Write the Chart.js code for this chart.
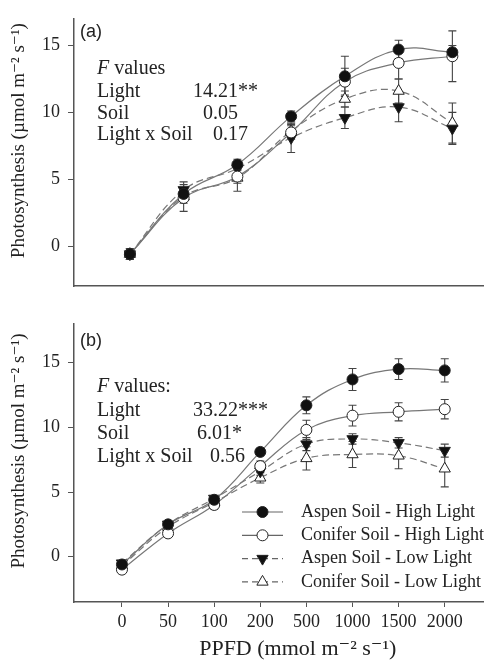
<!DOCTYPE html>
<html>
<head>
<meta charset="utf-8">
<script src="https://cdn.jsdelivr.net/npm/chart.js@4.4.0/dist/chart.umd.min.js"></script>
<style>
    body { margin: 0; background: #fff; }
    canvas { display: block; }
</style>
</head>
<body>
<canvas id="chartA" width="492" height="305"></canvas>
<canvas id="chartB" width="492" height="358"></canvas>
<script>
// 系列名と目盛り
const seriesNames = ['Aspen Soil - High Light', 'Conifer Soil - High Light', 'Aspen Soil - Low Light', 'Conifer Soil - Low Light'];
const ppfdLabels = ['0', '50', '100', '200', '500', '1000', '1500', '2000'];
const ppfdLabelsA = ['0', '50', '100', '200', '500', '1000', '1500'];
const yTicks = [0, 5, 10, 15];

// (a) の値と誤差
const aspenHighA = [-0.6, 3.9, 6.1, 9.7, 12.7, 14.7, 14.5];
const coniferHighA = [-0.6, 3.6, 5.2, 8.5, 12.3, 13.7, 14.2];
const aspenLowA = [-0.6, 4.2, 5.8, 8.1, 9.6, 10.4, 8.8];
const coniferLowA = [-0.6, 3.7, 5.1, 8.6, 11.0, 11.6, 9.2];
const aspenHighErrA = [0.4, 0.4, 0.4, 0.4, 1.5, 0.7, 0.5];
const coniferHighErrA = [0.4, 1.0, 0.5, 0.5, 1.0, 1.2, 1.9];
const aspenLowErrA = [0.4, 0.6, 0.5, 1.1, 0.8, 1.1, 1.2];
const coniferLowErrA = [0.4, 0.5, 1.0, 0.5, 0.6, 0.9, 1.5];

// (b) の値と誤差
const aspenHighB = [-0.6, 2.5, 4.4, 8.1, 11.7, 13.7, 14.5, 14.4];
const coniferHighB = [-1.0, 1.8, 4.0, 7.0, 9.8, 10.9, 11.2, 11.4];
const aspenLowB = [-0.5, 2.5, 4.5, 6.6, 8.7, 9.1, 8.8, 8.2];
const coniferLowB = [-0.7, 2.3, 4.2, 6.1, 7.6, 7.9, 7.8, 6.8];
const aspenHighErrB = [0.2, 0.2, 0.2, 0.3, 0.65, 0.85, 0.8, 0.9];
const coniferHighErrB = [0.2, 0.2, 0.3, 0.4, 0.75, 0.8, 0.7, 0.75];
const aspenLowErrB = [0.2, 0.2, 0.2, 0.3, 0.5, 0.4, 0.4, 0.5];
const coniferLowErrB = [0.2, 0.2, 0.2, 0.4, 0.9, 1.0, 1.0, 1.4];

// F値の注記
const fHeaderA = 'values';
const fRowsA = [['Light', '14.21**'], ['Soil', '0.05'], ['Light x Soil', '0.17']];
const fHeaderB = 'values:';
const fRowsB = [['Light', '33.22***'], ['Soil', '6.01*'], ['Light x Soil', '0.56']];

const SERIF = "'Liberation Serif', 'DejaVu Serif', serif";
const SANS = "'Liberation Sans', Arial, sans-serif";
const AXIS_COLOR = '#555';
const TEXT_COLOR = '#222';

Chart.defaults.font.family = SERIF;
Chart.defaults.color = TEXT_COLOR;

// 系列ごとの見た目
const seriesStyles = [
    { pointStyle: 'circle', rotation: 0, radius: 5.5, fill: '#111', dash: [] },
    { pointStyle: 'circle', rotation: 0, radius: 5.5, fill: '#fff', dash: [] },
    { pointStyle: 'triangle', rotation: 180, radius: 6.5, fill: '#111', dash: [7, 4] },
    { pointStyle: 'triangle', rotation: 0, radius: 6.5, fill: '#fff', dash: [7, 4] }
];

function makeDatasets(valueSets, errorSets) {
    return valueSets.map((values, s) => {
        const st = seriesStyles[s];
        return {
            label: seriesNames[s],
            data: values.map((v, i) => ({ x: i, y: v })),
            errors: errorSets[s],
            borderColor: '#777',
            borderWidth: 1.2,
            borderDash: st.dash,
            tension: 0.4,
            pointStyle: st.pointStyle,
            pointRotation: st.rotation,
            pointRadius: st.radius,
            pointBackgroundColor: st.fill,
            pointBorderColor: '#222',
            pointBorderWidth: 1,
            clip: false
        };
    });
}

// 誤差棒を描くプラグイン
const errorBarPlugin = {
    id: 'errorBars',
    beforeDatasetsDraw(chart) {
        const { ctx, scales: { x, y } } = chart;
        ctx.save();
        ctx.strokeStyle = '#444';
        ctx.lineWidth = 1.1;
        chart.data.datasets.forEach(ds => {
            ds.data.forEach((p, i) => {
                const e = ds.errors[i];
                const px = x.getPixelForValue(p.x);
                const top = y.getPixelForValue(p.y + e);
                const bot = y.getPixelForValue(p.y - e);
                ctx.beginPath();
                ctx.moveTo(px, top); ctx.lineTo(px, bot);
                ctx.moveTo(px - 4, top); ctx.lineTo(px + 4, top);
                ctx.moveTo(px - 4, bot); ctx.lineTo(px + 4, bot);
                ctx.stroke();
            });
        });
        ctx.restore();
    }
};

// パネル記号とF値の注記
const annotationPlugin = {
    id: 'fValues',
    afterDraw(chart, args, opts) {
        const { ctx, chartArea: { left, top } } = chart;
        ctx.save();
        ctx.fillStyle = TEXT_COLOR;
        ctx.textBaseline = 'middle';
        ctx.textAlign = 'left';
        ctx.font = '18px ' + SANS;
        ctx.fillText(opts.tag, left + 6, top + opts.tagY);

        const hx = left + 23;
        let y = top + opts.headerY;
        ctx.font = 'italic 20px ' + SERIF;
        ctx.fillText('F', hx, y);
        const fw = ctx.measureText('F ').width;
        ctx.font = '20px ' + SERIF;
        ctx.fillText(opts.header, hx + fw, y);
        opts.rows.forEach((row, i) => {
            const ry = top + opts.rowY[i];
            ctx.fillText(row[0], hx, ry);
            ctx.fillText(row[1], left + opts.valueX[i], ry);
        });
        ctx.restore();
    }
};

// 凡例（パネルbのみ）
const legendPlugin = {
    id: 'customLegend',
    afterDraw(chart, args, opts) {
        if (!opts.show) return;
        const { ctx } = chart;
        ctx.save();
        chart.data.datasets.forEach((ds, i) => {
            const st = seriesStyles[i];
            const y = opts.y0 + i * opts.step;
            ctx.strokeStyle = '#666';
            ctx.lineWidth = 1.2;
            ctx.setLineDash(st.dash.length ? [6, 4] : []);
            ctx.beginPath();
            ctx.moveTo(opts.x0, y);
            ctx.lineTo(opts.x1, y);
            ctx.stroke();
            ctx.setLineDash([]);
            const cx = (opts.x0 + opts.x1) / 2;
            ctx.fillStyle = st.fill;
            ctx.strokeStyle = '#222';
            ctx.lineWidth = 1;
            ctx.beginPath();
            if (st.pointStyle === 'circle') {
                ctx.arc(cx, y, st.radius, 0, Math.PI * 2);
            } else {
                const r = st.radius;
                const rot = st.rotation * Math.PI / 180;
                for (let k = 0; k < 3; k++) {
                    const a = rot + k * 2 * Math.PI / 3;
                    const px = cx + Math.sin(a) * r;
                    const py = y - Math.cos(a) * r;
                    if (k === 0) ctx.moveTo(px, py); else ctx.lineTo(px, py);
                }
                ctx.closePath();
            }
            ctx.fill();
            ctx.stroke();
            ctx.fillStyle = TEXT_COLOR;
            ctx.font = '18px ' + SERIF;
            ctx.textBaseline = 'middle';
            ctx.fillText(ds.label, opts.textX, y);
        });
        ctx.restore();
    }
};

function makeOptions(cfg) {
    return {
        responsive: false,
        animation: false,
        events: [],
        layout: { padding: { top: cfg.padTop, right: 9, left: 0, bottom: 0 } },
        plugins: {
            legend: { display: false },
            tooltip: { enabled: false },
            fValues: cfg.annot,
            customLegend: cfg.legend
        },
        scales: {
            x: {
                type: 'linear',
                min: cfg.xMin,
                max: cfg.xMax,
                afterFit: (scale) => { scale.height = cfg.xHeight; },
                afterBuildTicks: (scale) => {
                    scale.ticks = cfg.xLabels.map((_, i) => ({ value: i }));
                },
                border: { display: true, color: AXIS_COLOR, width: 1.5 },
                grid: { drawOnChartArea: false, drawTicks: cfg.showX, tickLength: 5, tickColor: AXIS_COLOR },
                ticks: {
                    display: cfg.showX,
                    autoSkip: false,
                    maxRotation: 0,
                    padding: 4,
                    font: { size: 18 },
                    callback: (v) => cfg.xLabels[v]
                },
                title: {
                    display: cfg.showX,
                    // 先頭の空白で中心を少し右へずらす
                    text: '       PPFD (mmol m\u207B\u00B2 s\u207B\u00B9)',
                    font: { size: 22 },
                    padding: { top: 0, bottom: 1 }
                }
            },
            y: {
                min: cfg.yMin,
                max: cfg.yMax,
                afterFit: (scale) => { scale.width = 74; },
                afterBuildTicks: (scale) => {
                    scale.ticks = yTicks.map(v => ({ value: v }));
                },
                border: { display: true, color: AXIS_COLOR, width: 1.5 },
                grid: { drawOnChartArea: false, tickLength: 6, tickColor: AXIS_COLOR },
                ticks: { padding: 8, font: { size: 18 } },
                title: {
                    display: true,
                    // 先頭の空白で中心を少し上へずらす
                    text: '     Photosynthesis (\u00B5mol m\u207B\u00B2 s\u207B\u00B9)',
                    font: { size: 19 },
                    padding: { top: 8, bottom: 0 }
                }
            }
        }
    };
}

// パネル (a)
new Chart(document.getElementById('chartA'), {
    type: 'line',
    data: {
        datasets: makeDatasets(
            [aspenHighA, coniferHighA, aspenLowA, coniferLowA],
            [aspenHighErrA, coniferHighErrA, aspenLowErrA, coniferLowErrA]
        )
    },
    options: makeOptions({
        padTop: 12, xHeight: 8, xMin: -1.04, xMax: 6.57, yMin: -3, yMax: 17,
        showX: false, xLabels: ppfdLabelsA,
        annot: { tag: '(a)', tagY: 13, header: fHeaderA, headerY: 50, rows: fRowsA,
                 rowY: [73, 95, 116], valueX: [119, 129, 139] },
        legend: { show: false }
    }),
    plugins: [errorBarPlugin, annotationPlugin, legendPlugin]
});

// パネル (b)
new Chart(document.getElementById('chartB'), {
    type: 'line',
    data: {
        datasets: makeDatasets(
            [aspenHighB, coniferHighB, aspenLowB, coniferLowB],
            [aspenHighErrB, coniferHighErrB, aspenLowErrB, coniferLowErrB]
        )
    },
    options: makeOptions({
        padTop: 5, xHeight: 61, xMin: -1.04, xMax: 7.83, yMin: -3.5, yMax: 18,
        showX: true, xLabels: ppfdLabels,
        annot: { tag: '(b)', tagY: 17, header: fHeaderB, headerY: 63, rows: fRowsB,
                 rowY: [87, 110, 133], valueX: [119, 123, 136] },
        legend: { show: true, x0: 242, x1: 283, textX: 301, y0: 207, step: 23.3 }
    }),
    plugins: [errorBarPlugin, annotationPlugin, legendPlugin]
});
</script>
</body>
</html>
